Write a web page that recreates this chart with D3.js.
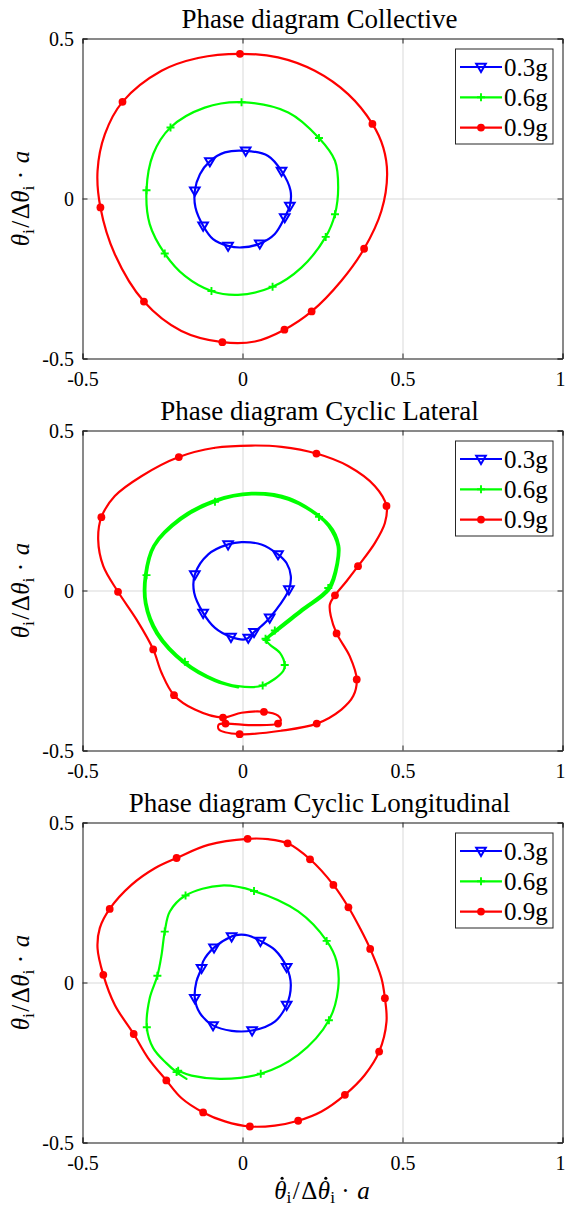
<!DOCTYPE html>
<html>
<head>
<meta charset="utf-8">
<script src="https://cdn.jsdelivr.net/npm/d3@7"></script>
<style>
  html, body { margin: 0; padding: 0; background: #fff; }
  svg { display: block; }
  text { font-family: "Liberation Serif", "Times New Roman", serif; fill: #000; }
</style>
</head>
<body>
<svg id="chart" width="566" height="1208"></svg>
<script>
// ---- data -----------------------------------------------------------
// Each trace is a list of [rate, angle] samples (normalised);
// a third entry of 1 marks a sample that carries a marker.
const panelTitles = ["Phase diagram Collective", "Phase diagram Cyclic Lateral", "Phase diagram Cyclic Longitudinal"];
const seriesNames = ["0.3g", "0.6g", "0.9g"];
const xTicks = [-0.5, 0, 0.5, 1];
const xTickLabels = ["-0.5", "0", "0.5", "1"];
const yTicks = [-0.5, 0, 0.5];
const yTickLabels = ["-0.5", "0", "0.5"];

const collective03 = [
  [0.010, 0.149, 1], [-0.055, 0.144], [-0.102, 0.116, 1], [-0.133, 0.076], [-0.149, 0.024, 1],
  [-0.147, -0.028], [-0.123, -0.085, 1], [-0.092, -0.127], [-0.045, -0.148, 1], [-0.003, -0.153],
  [0.054, -0.141, 1], [0.101, -0.111], [0.132, -0.059, 1], [0.148, -0.023, 1], [0.150, 0.025],
  [0.122, 0.086, 1], [0.080, 0.133]
];
const collective06 = [
  [-0.003, 0.301, 1], [-0.118, 0.284], [-0.225, 0.222, 1], [-0.279, 0.139], [-0.300, 0.026, 1],
  [-0.290, -0.080], [-0.243, -0.172, 1], [-0.180, -0.242], [-0.097, -0.289, 1], [-0.014, -0.301],
  [0.094, -0.276, 1], [0.184, -0.216], [0.260, -0.120, 1], [0.289, -0.049, 1], [0.299, 0.034],
  [0.289, 0.118], [0.239, 0.189, 1], [0.143, 0.269]
];
const collective09 = [
  [-0.008, 0.452, 1], [-0.139, 0.439], [-0.253, 0.399], [-0.375, 0.302, 1], [-0.430, 0.201],
  [-0.453, 0.086], [-0.444, -0.028, 1], [-0.399, -0.174], [-0.308, -0.322, 1], [-0.191, -0.414],
  [-0.063, -0.449, 1], [0.039, -0.447], [0.131, -0.410, 1], [0.216, -0.353, 1], [0.309, -0.257],
  [0.380, -0.157, 1], [0.434, -0.039], [0.452, 0.076], [0.440, 0.159], [0.406, 0.233, 1],
  [0.330, 0.326], [0.226, 0.399], [0.111, 0.441]
];

const lateral03 = [
  [-0.003, 0.151], [-0.045, 0.144, 1], [-0.107, 0.113], [-0.149, 0.050, 1], [-0.151, -0.007],
  [-0.123, -0.070, 1], [-0.086, -0.117], [-0.036, -0.145, 1], [0.007, -0.153], [0.018, -0.148, 1],
  [0.036, -0.130, 1], [0.065, -0.106], [0.085, -0.085, 1], [0.117, -0.044], [0.145, 0.003, 1],
  [0.151, 0.045], [0.138, 0.085], [0.111, 0.113, 1], [0.059, 0.144]
];
const lateral06 = [
  [0.072, -0.151, 1], [0.101, -0.125, 1], [0.184, -0.059], [0.268, 0.008, 1], [0.294, 0.086],
  [0.297, 0.139], [0.268, 0.201], [0.239, 0.230, 1], [0.143, 0.284], [0.028, 0.300],
  [-0.086, 0.277, 1], [-0.191, 0.222], [-0.274, 0.139], [-0.300, 0.048, 1], [-0.300, -0.039],
  [-0.264, -0.132], [-0.180, -0.223, 1], [-0.086, -0.278], [-0.014, -0.299], [0.063, -0.297, 1],
  [0.127, -0.252], [0.132, -0.233, 1], [0.117, -0.195], [0.085, -0.169], [0.075, -0.155, 1],
  [0.104, -0.130], [0.188, -0.064], [0.273, 0.004], [0.299, 0.086], [0.302, 0.141],
  [0.272, 0.205], [0.146, 0.289], [0.028, 0.305], [-0.089, 0.282], [-0.196, 0.226],
  [-0.279, 0.140], [-0.305, 0.048], [-0.305, -0.041], [-0.269, -0.136], [-0.183, -0.228],
  [-0.087, -0.283], [-0.014, -0.303]
];
const lateral09 = [
  [0.028, 0.453], [-0.086, 0.446], [-0.199, 0.417, 1], [-0.316, 0.357], [-0.399, 0.295],
  [-0.441, 0.229, 1], [-0.451, 0.159], [-0.435, 0.076], [-0.389, -0.004, 1], [-0.331, -0.091],
  [-0.279, -0.184, 1], [-0.253, -0.257], [-0.214, -0.327, 1], [-0.149, -0.372], [-0.061, -0.397, 1],
  [-0.003, -0.382], [0.067, -0.379, 1], [0.111, -0.391], [0.120, -0.405], [0.111, -0.416, 1],
  [0.039, -0.421], [-0.053, -0.416, 1], [-0.074, -0.419], [-0.074, -0.434], [-0.009, -0.449, 1],
  [0.122, -0.438], [0.232, -0.416, 1], [0.309, -0.372], [0.346, -0.330], [0.357, -0.278, 1],
  [0.335, -0.205], [0.294, -0.134, 1], [0.276, -0.080], [0.273, -0.044], [0.289, -0.015, 1],
  [0.325, 0.029], [0.361, 0.076, 1], [0.414, 0.149], [0.445, 0.211], [0.450, 0.264, 1],
  [0.414, 0.326], [0.330, 0.389], [0.231, 0.428, 1], [0.122, 0.449]
];

const longitudinal03 = [
  [-0.014, 0.149], [-0.034, 0.144, 1], [-0.089, 0.109, 1], [-0.123, 0.066], [-0.128, 0.045, 1],
  [-0.144, 0.003], [-0.149, -0.049, 1], [-0.133, -0.096], [-0.092, -0.134, 1], [-0.034, -0.151],
  [0.030, -0.150, 1], [0.101, -0.122], [0.138, -0.070, 1], [0.151, -0.007], [0.138, 0.048, 1],
  [0.101, 0.102], [0.056, 0.130, 1], [0.018, 0.147]
];
const longitudinal06 = [
  [-0.201, -0.276, 1], [-0.159, -0.291], [-0.066, -0.301], [0.057, -0.285, 1], [0.174, -0.226],
  [0.270, -0.118, 1], [0.299, -0.018], [0.294, 0.066], [0.263, 0.130, 1], [0.174, 0.222],
  [0.036, 0.286, 1], [-0.066, 0.303], [-0.178, 0.272, 1], [-0.227, 0.222], [-0.243, 0.159, 1],
  [-0.253, 0.086], [-0.266, 0.021, 1], [-0.290, -0.049], [-0.299, -0.140, 1], [-0.279, -0.205],
  [-0.238, -0.252], [-0.206, -0.280, 1], [-0.175, -0.301]
];
const longitudinal09 = [
  [0.016, 0.449, 1], [-0.107, 0.430], [-0.206, 0.389, 1], [-0.274, 0.357], [-0.347, 0.305],
  [-0.415, 0.230, 1], [-0.446, 0.170], [-0.453, 0.107], [-0.435, 0.024, 1], [-0.399, -0.070],
  [-0.340, -0.161, 1], [-0.295, -0.236], [-0.238, -0.306, 1], [-0.191, -0.361], [-0.123, -0.406, 1],
  [-0.055, -0.434], [0.023, -0.450, 1], [0.101, -0.447], [0.174, -0.432, 1], [0.247, -0.403],
  [0.320, -0.351, 1], [0.382, -0.289], [0.427, -0.216, 1], [0.450, -0.122], [0.445, -0.049, 1],
  [0.434, 0.014], [0.399, 0.105, 1], [0.367, 0.170], [0.331, 0.235, 1], [0.284, 0.305, 1],
  [0.211, 0.385, 1], [0.141, 0.435, 1], [0.080, 0.448]
];

// ---- layout ---------------------------------------------------------
const svg = d3.select("#chart");
const W = 566;
const plotLeft = 82.5, plotW = 480, plotH = 320;
const panelTops = [38.5, 430.5, 822.5];
const seriesColor = ["#0000ff", "#00ff00", "#ff0000"];
const axisColor = "#262626";
const gridColor = "#d9d9d9";
const serif = "'Liberation Serif', 'Times New Roman', serif";

const panels = [
  { traces: [collective03, collective06, collective09], closed: [true, true, true] },
  { traces: [lateral03, lateral06, lateral09], closed: [true, false, true] },
  { traces: [longitudinal03, longitudinal06, longitudinal09], closed: [true, false, true] }
];

// marker shapes: downward triangle, plus, filled dot
function drawMarker(g, kind, color) {
  if (kind === 0) {
    g.append("path").attr("d", "M-4.8,-3.2 L4.8,-3.2 L0,5 Z")
      .attr("fill", "none").attr("stroke", color).attr("stroke-width", 2)
      .attr("stroke-linejoin", "miter");
  } else if (kind === 1) {
    g.append("path").attr("d", "M-4,0 H4 M0,-4 V4")
      .attr("stroke", color).attr("stroke-width", 1.9).attr("fill", "none");
  } else {
    g.append("circle").attr("r", 3.9).attr("fill", color);
  }
}

// θ_i / Δθ_i · a
function mathLabel(sel) {
  sel.append("tspan").attr("font-style", "italic").text("\u03B8");
  sel.append("tspan").attr("font-size", 17.5).attr("dy", 4.5).text("i");
  sel.append("tspan").attr("dy", -4.5).attr("dx", 1.5).text("/");
  sel.append("tspan").attr("dx", 1.5).text("\u0394");
  sel.append("tspan").attr("dx", 0.5).attr("font-style", "italic").text("\u03B8");
  sel.append("tspan").attr("font-size", 17.5).attr("dy", 4.5).text("i");
  sel.append("tspan").attr("dy", -4.5).text(" \u00B7 ");
  sel.append("tspan").attr("dx", 1.5).attr("font-style", "italic").text("a");
  sel.selectAll("tspan").style("font-family", serif);
}

panels.forEach((p, pi) => {
  const top = panelTops[pi];
  const x = d3.scaleLinear().domain([-0.5, 1]).range([plotLeft, plotLeft + plotW]);
  const y = d3.scaleLinear().domain([-0.5, 0.5]).range([top + plotH, top]);
  const g = svg.append("g");

  // background + grid
  g.append("rect").attr("x", plotLeft).attr("y", top).attr("width", plotW).attr("height", plotH).attr("fill", "#fff");
  g.append("g").attr("transform", `translate(0,${top + plotH})`)
    .call(d3.axisBottom(x).tickValues(xTicks).tickSize(-plotH).tickFormat(""))
    .call(a => { a.select(".domain").remove(); a.selectAll("line").attr("stroke", gridColor); });
  g.append("g").attr("transform", `translate(${plotLeft},0)`)
    .call(d3.axisLeft(y).tickValues(yTicks).tickSize(-plotW).tickFormat(""))
    .call(a => { a.select(".domain").remove(); a.selectAll("line").attr("stroke", gridColor); });

  // traces
  p.traces.forEach((tr, si) => {
    const line = d3.line().x(d => x(d[0])).y(d => y(d[1]))
      .curve(p.closed[si] ? d3.curveCatmullRomClosed.alpha(0.5) : d3.curveCatmullRom.alpha(0.5));
    g.append("path").datum(tr).attr("d", line)
      .attr("fill", "none").attr("stroke", seriesColor[si]).attr("stroke-width", 2.2)
      .attr("stroke-linejoin", "round").attr("stroke-linecap", "round");
    tr.filter(d => d[2] === 1).forEach(d => {
      drawMarker(g.append("g").attr("transform", `translate(${x(d[0])},${y(d[1])})`), si, seriesColor[si]);
    });
  });

  // axes box with inward ticks
  const ax = g.append("g");
  ax.append("g").attr("transform", `translate(0,${top + plotH})`)
    .call(d3.axisBottom(x).tickValues(xTicks).tickSize(-5).tickPadding(0).tickFormat((d, i) => xTickLabels[i]))
    .call(a => {
      a.select(".domain").attr("stroke", axisColor);
      a.selectAll("line").attr("stroke", axisColor);
      a.selectAll("text").attr("y", 27.5).attr("dy", null).attr("font-size", 20)
        .style("font-family", serif).attr("fill", "#000");
    });
  ax.append("g").attr("transform", `translate(0,${top})`)
    .call(d3.axisTop(x).tickValues(xTicks).tickSize(-5).tickFormat(""))
    .call(a => { a.select(".domain").attr("stroke", axisColor); a.selectAll("line").attr("stroke", axisColor); });
  ax.append("g").attr("transform", `translate(${plotLeft},0)`)
    .call(d3.axisLeft(y).tickValues(yTicks).tickSize(-5).tickPadding(8.5).tickFormat((d, i) => yTickLabels[i]))
    .call(a => {
      a.select(".domain").attr("stroke", axisColor);
      a.selectAll("line").attr("stroke", axisColor);
      a.selectAll("text").attr("dy", "0.35em").attr("font-size", 20)
        .style("font-family", serif).attr("fill", "#000");
    });
  ax.append("g").attr("transform", `translate(${plotLeft + plotW},0)`)
    .call(d3.axisRight(y).tickValues(yTicks).tickSize(-5).tickFormat(""))
    .call(a => { a.select(".domain").attr("stroke", axisColor); a.selectAll("line").attr("stroke", axisColor); });
  ax.selectAll(".domain").attr("fill", "none");

  // keep the right-most tick label inside the canvas
  ax.selectAll("text").each(function () {
    const b = this.getBBox();
    const m = this.getCTM();
    const right = m.e + b.x + b.width;
    if (right > W - 0.5) d3.select(this).attr("x", (+d3.select(this).attr("x") || 0) - (right - (W - 0.5)));
  });

  // title
  g.append("text").attr("x", plotLeft + plotW / 2 - 3).attr("y", top - 10.2)
    .attr("text-anchor", "middle").attr("font-size", 27).style("font-family", serif).text(panelTitles[pi]);

  // y label
  const yl = g.append("text").attr("font-size", 25).attr("text-anchor", "middle")
    .attr("transform", `translate(29,${top + plotH / 2}) rotate(-90)`);
  mathLabel(yl);

  // legend
  const lx = 455.5, ly = top + 10.5, lw = 97.5, lh = 95;
  const lg = g.append("g");
  lg.append("rect").attr("x", lx).attr("y", ly).attr("width", lw).attr("height", lh)
    .attr("fill", "#fff").attr("stroke", axisColor).attr("stroke-width", 1);
  seriesNames.forEach((name, si) => {
    const ry = ly + 18 + si * 30.3;
    lg.append("line").attr("x1", lx + 4.5).attr("x2", lx + 46.5).attr("y1", ry).attr("y2", ry)
      .attr("stroke", seriesColor[si]).attr("stroke-width", 2.2);
    drawMarker(lg.append("g").attr("transform", `translate(${lx + 25.5},${ry})`), si, seriesColor[si]);
    lg.append("text").attr("x", lx + 48.5).attr("y", ry + 8.5).attr("font-size", 25)
      .style("font-family", serif).text(name);
  });
});

// x label (bottom panel only), with derivative dots over both θ
const xlBase = 1198.5;
const xl = svg.append("text").attr("font-size", 25).attr("text-anchor", "middle")
  .attr("x", 322).attr("y", xlBase);
mathLabel(xl);
const xlNode = xl.node();
[...xlNode.textContent].forEach((ch, i) => {
  if (ch === "\u03B8") {
    const e = xlNode.getExtentOfChar(i);
    svg.append("circle").attr("cx", e.x + e.width / 2 + 1.8).attr("cy", xlBase - 20.2)
      .attr("r", 1.55).attr("fill", "#000");
  }
});
</script>
</body>
</html>
